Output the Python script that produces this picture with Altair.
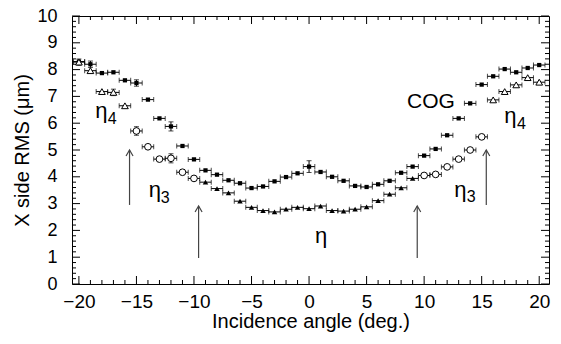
import altair as alt
import pandas as pd

# ---------------- data ----------------
angles_cog = list(range(-20, 21))
cog_rms = [8.30, 8.20, 7.87, 7.90, 7.60, 7.50, 6.88, 6.18, 5.88, 5.15, 4.65,
           4.24, 4.08, 3.87, 3.76, 3.58, 3.64, 3.83, 3.99, 4.13,
           4.38,
           4.18, 4.00, 3.85, 3.66, 3.62, 3.72, 3.85, 4.15, 4.38,
           4.79, 5.04, 5.55, 6.18, 6.74, 7.44, 7.75, 8.02, 7.90, 8.06, 8.17]

angles_eta = list(range(-9, 10))
eta_rms = [3.80, 3.56, 3.40, 3.09, 2.86, 2.74, 2.69, 2.79, 2.86, 2.81,
           2.91, 2.74, 2.72, 2.79, 2.88, 3.11, 3.35, 3.59, 3.94]

angles_eta3 = [-15, -14, -13, -12, -11, -10, 10, 11, 12, 13, 14, 15]
eta3_rms = [5.71, 5.12, 4.66, 4.69, 4.17, 3.94, 4.05, 4.09, 4.37, 4.66, 5.00, 5.49]

angles_eta4 = [-20, -19, -18, -17, -16, 16, 17, 18, 19, 20]
eta4_rms = [8.28, 7.96, 7.18, 7.15, 6.65, 6.87, 7.18, 7.43, 7.70, 7.53]

angle_bin_half_width = 0.5

yerr_series = ["COG", "COG", "COG", "COG", "eta4", "eta4", "eta3", "eta3"]
yerr_angles = [-19, -15, -12, 0, -20, -17, -15, -12]
yerr_values = [0.12, 0.12, 0.17, 0.22, 0.12, 0.12, 0.16, 0.17]

# arrows (x, y from, y to)
arrow_x = [-15.6, -9.6, 9.4, 15.4]
arrow_y0 = [2.95, 0.97, 0.97, 2.95]
arrow_y1 = [5.0, 2.91, 2.91, 5.0]

# annotations
label_text = ["η", "4", "η", "3", "η", "COG", "η", "3", "η", "4"]
label_x = [-18.05, -17.1, -13.4, -12.5, 1.05, 10.6, 13.15, 14.1, 17.5, 18.45]
label_y = [6.18, 5.97, 3.25, 3.04, 1.53, 6.57, 3.25, 3.06, 6.0, 5.78]
label_size = [22, 16, 22, 16, 22, 21, 22, 16, 22, 16]

x_major_ticks = list(range(-20, 21, 5))
x_minor_ticks = [v for v in range(-20, 21) if v % 5 != 0]
y_major_ticks = list(range(0, 11))
y_minor_ticks = [round(i * 0.2, 1) for i in range(51) if i % 5 != 0]

# ---------------- build tables ----------------
def series_df(xs, ys, name):
    d = pd.DataFrame({"x": xs, "y": ys})
    d["series"] = name
    d["xlo"] = d["x"] - angle_bin_half_width
    d["xhi"] = d["x"] + angle_bin_half_width
    return d

df_cog = series_df(angles_cog, cog_rms, "COG")
df_eta = series_df(angles_eta, eta_rms, "eta")
df_eta3 = series_df(angles_eta3, eta3_rms, "eta3")
df_eta4 = series_df(angles_eta4, eta4_rms, "eta4")
df_all = pd.concat([df_cog, df_eta, df_eta3, df_eta4], ignore_index=True)

lookup = {"COG": df_cog, "eta4": df_eta4, "eta3": df_eta3}
rows = []
for s, a, e in zip(yerr_series, yerr_angles, yerr_values):
    d = lookup[s]
    yv = float(d.loc[d["x"] == a, "y"].iloc[0])
    rows.append({"x": a, "y": yv, "ylo": yv - e, "yhi": yv + e})
df_yerr = pd.DataFrame(rows)

df_arrow = pd.DataFrame({"x": arrow_x, "y0": arrow_y0, "y1": arrow_y1})
df_text = pd.DataFrame({"x": label_x, "y": label_y, "t": label_text, "fs": label_size})

W, H = 477, 268
FONT = "Liberation Sans"

xs = alt.Scale(domain=[-20.6, 20.85], nice=False, zero=False)
ys = alt.Scale(domain=[0, 10], nice=False, zero=False)

xaxis = alt.Axis(values=x_major_ticks, ticks=False, domain=False, grid=False,
                 labelFont=FONT, labelFontSize=19, labelColor="black", labelPadding=8,
                 title="Incidence angle (deg.)", titleFont=FONT, titleFontSize=20,
                 titleFontWeight="normal", titleColor="black", titlePadding=0)
yaxis = alt.Axis(values=y_major_ticks, ticks=False, domain=False, grid=False,
                 labelFont=FONT, labelFontSize=18, labelColor="black", labelPadding=15,
                 title="X side RMS (μm)", titleFont=FONT, titleFontSize=20,
                 titleFontWeight="normal", titleColor="black", titlePadding=4)

X = alt.X("x:Q", scale=xs, axis=xaxis)
Y = alt.Y("y:Q", scale=ys, axis=yaxis)

hbar = alt.Chart(df_all).mark_rule(color="black", strokeWidth=1).encode(
    x=alt.X("xlo:Q", scale=xs, axis=xaxis), x2="xhi:Q", y=Y)
cap_l = alt.Chart(df_all).mark_tick(orient="vertical", size=5, thickness=1, color="black").encode(
    x=alt.X("xlo:Q", scale=xs, axis=xaxis), y=Y)
cap_r = alt.Chart(df_all).mark_tick(orient="vertical", size=5, thickness=1, color="black").encode(
    x=alt.X("xhi:Q", scale=xs, axis=xaxis), y=Y)

vbar = alt.Chart(df_yerr).mark_rule(color="black", strokeWidth=1).encode(
    x=X, y=alt.Y("ylo:Q", scale=ys, axis=yaxis), y2="yhi:Q")
vcap_lo = alt.Chart(df_yerr).mark_tick(orient="horizontal", size=5, thickness=1, color="black").encode(
    x=X, y=alt.Y("ylo:Q", scale=ys, axis=yaxis))
vcap_hi = alt.Chart(df_yerr).mark_tick(orient="horizontal", size=5, thickness=1, color="black").encode(
    x=X, y=alt.Y("yhi:Q", scale=ys, axis=yaxis))

m_cog = alt.Chart(df_cog).mark_point(shape="square", size=18, filled=True, color="black", opacity=1).encode(x=X, y=Y)
m_eta = alt.Chart(df_eta).mark_point(shape="triangle-up", size=30, filled=True, color="black", opacity=1).encode(x=X, y=Y)
m_eta3 = alt.Chart(df_eta3).mark_point(shape="circle", size=45, filled=True, fill="white",
                                       stroke="black", strokeWidth=1, opacity=1).encode(x=X, y=Y)
m_eta4 = alt.Chart(df_eta4).mark_point(shape="triangle-up", size=45, filled=True, fill="white",
                                       stroke="black", strokeWidth=1, opacity=1).encode(x=X, y=Y)

arrow_shaft = alt.Chart(df_arrow).mark_rule(color="#444444", strokeWidth=1.2).encode(
    x=X, y=alt.Y("y0:Q", scale=ys, axis=yaxis), y2="y1:Q")
arrow_head = alt.Chart(df_arrow).mark_point(shape="M-1,1.7L0,0L1,1.7", size=49, filled=False,
                                            color="#444444", strokeWidth=1.2, opacity=1).encode(
    x=X, y=alt.Y("y1:Q", scale=ys, axis=yaxis))

texts = alt.Chart(df_text).mark_text(font=FONT, color="black", align="center", baseline="alphabetic").encode(
    x=X, y=Y, text="t:N", size=alt.Size("fs:Q", scale=None, legend=None))

# inward ticks on all four sides
def xticks(vals, y_a, y_b):
    return alt.Chart(pd.DataFrame({"x": vals})).mark_rule(color="black", strokeWidth=1).encode(
        x=X, y=alt.value(y_a), y2=alt.value(y_b))

def yticks(vals, x_a, x_b):
    return alt.Chart(pd.DataFrame({"y": vals})).mark_rule(color="black", strokeWidth=1).encode(
        y=Y, x=alt.value(x_a), x2=alt.value(x_b))

tick_layers = [
    xticks(x_major_ticks, H, H - 8), xticks(x_minor_ticks, H, H - 4),
    xticks(x_major_ticks, 0, 8), xticks(x_minor_ticks, 0, 4),
    yticks(y_major_ticks, 0, 8), yticks(y_minor_ticks, 0, 4),
    yticks(y_major_ticks, W, W - 8), yticks(y_minor_ticks, W, W - 4),
]

chart = alt.layer(
    hbar, cap_l, cap_r, vbar, vcap_lo, vcap_hi,
    arrow_shaft, arrow_head,
    m_cog, m_eta, m_eta3, m_eta4,
    texts, *tick_layers
).properties(
    width=W, height=H,
    autosize=alt.AutoSizeParams(type="none"),
    padding={"left": 64, "top": 8, "right": 4, "bottom": 52},
    background="white",
).configure_view(stroke="black", strokeWidth=1)

chart.save("out.html", embed_options={"renderer": "svg", "actions": False})
